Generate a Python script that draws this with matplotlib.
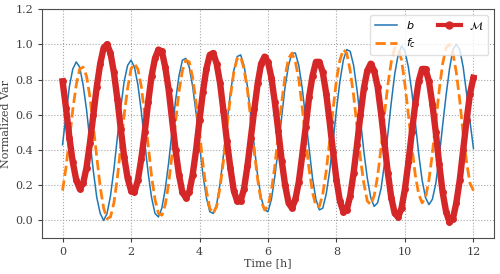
import numpy as np
import matplotlib.pyplot as plt

plt.rcParams['font.family'] = ['DejaVu Serif']
plt.rcParams['mathtext.fontset'] = 'dejavusans'

# time grid [h], 0.1 h step
t = np.linspace(0, 12, 121)

b = [0.43, 0.60, 0.76, 0.86, 0.90, 0.87, 0.77, 0.63, 0.45, 0.28,
     0.13, 0.04, 0.00, 0.04, 0.14, 0.29, 0.47, 0.64, 0.79, 0.88,
     0.91, 0.87, 0.77, 0.62, 0.44, 0.27, 0.13, 0.04, 0.02, 0.07,
     0.18, 0.33, 0.51, 0.68, 0.82, 0.91, 0.92, 0.87, 0.76, 0.61,
     0.43, 0.26, 0.13, 0.05, 0.04, 0.09, 0.21, 0.37, 0.55, 0.72,
     0.85, 0.93, 0.94, 0.88, 0.76, 0.59, 0.42, 0.25, 0.13, 0.06,
     0.05, 0.12, 0.25, 0.41, 0.59, 0.76, 0.88, 0.95, 0.95, 0.88,
     0.75, 0.58, 0.41, 0.24, 0.12, 0.06, 0.07, 0.15, 0.28, 0.45,
     0.63, 0.79, 0.91, 0.97, 0.96, 0.88, 0.74, 0.57, 0.39, 0.24,
     0.13, 0.08, 0.10, 0.18, 0.32, 0.49, 0.67, 0.83, 0.94, 0.99,
     0.96, 0.87, 0.73, 0.56, 0.38, 0.23, 0.13, 0.09, 0.12, 0.21,
     0.36, 0.54, 0.71, 0.86, 0.97, 1.00, 0.97, 0.87, 0.72, 0.56,
     0.41]

fc = [0.17, 0.30, 0.46, 0.63, 0.77, 0.86, 0.87, 0.82, 0.70, 0.53,
      0.36, 0.19, 0.07, 0.01, 0.02, 0.10, 0.24, 0.42, 0.60, 0.75,
      0.86, 0.89, 0.86, 0.76, 0.60, 0.43, 0.25, 0.12, 0.04, 0.03,
      0.09, 0.21, 0.38, 0.56, 0.73, 0.85, 0.91, 0.90, 0.81, 0.67,
      0.50, 0.32, 0.17, 0.07, 0.04, 0.08, 0.19, 0.34, 0.53, 0.70,
      0.84, 0.92, 0.93, 0.86, 0.74, 0.57, 0.39, 0.23, 0.11, 0.06,
      0.08, 0.17, 0.31, 0.49, 0.67, 0.82, 0.92, 0.95, 0.90, 0.80,
      0.64, 0.46, 0.29, 0.16, 0.08, 0.08, 0.15, 0.28, 0.45, 0.63,
      0.80, 0.91, 0.97, 0.95, 0.85, 0.71, 0.53, 0.35, 0.21, 0.11,
      0.09, 0.14, 0.25, 0.41, 0.60, 0.77, 0.90, 0.98, 0.98, 0.91,
      0.77, 0.60, 0.42, 0.26, 0.15, 0.10, 0.13, 0.23, 0.38, 0.56,
      0.74, 0.89, 0.98, 1.00, 0.95, 0.84, 0.68, 0.49, 0.33, 0.21,
      0.17]

M = [0.79, 0.64, 0.47, 0.33, 0.23, 0.18, 0.21, 0.30, 0.44, 0.60,
     0.76, 0.89, 0.98, 1.00, 0.95, 0.84, 0.69, 0.52, 0.36, 0.24,
     0.17, 0.16, 0.23, 0.35, 0.50, 0.67, 0.82, 0.92, 0.97, 0.96,
     0.87, 0.74, 0.57, 0.40, 0.26, 0.16, 0.13, 0.16, 0.26, 0.40,
     0.57, 0.73, 0.86, 0.94, 0.95, 0.89, 0.78, 0.62, 0.45, 0.30,
     0.17, 0.11, 0.11, 0.18, 0.31, 0.47, 0.63, 0.78, 0.89, 0.93,
     0.90, 0.81, 0.67, 0.51, 0.34, 0.20, 0.10, 0.07, 0.12, 0.22,
     0.37, 0.53, 0.70, 0.82, 0.90, 0.90, 0.84, 0.72, 0.56, 0.39,
     0.23, 0.11, 0.05, 0.06, 0.14, 0.27, 0.43, 0.60, 0.75, 0.85,
     0.89, 0.85, 0.76, 0.61, 0.44, 0.27, 0.13, 0.04, 0.02, 0.07,
     0.18, 0.33, 0.50, 0.66, 0.79, 0.86, 0.86, 0.79, 0.66, 0.50,
     0.32, 0.16, 0.05, -0.01, 0.01, 0.10, 0.23, 0.40, 0.57, 0.72,
     0.81]

fig = plt.figure(figsize=(5, 2.74), dpi=100)
ax = fig.add_axes([0.084, 0.131, 0.904, 0.836])

ax.plot(t, b, color='#1f77b4', lw=1.1, label='$b$')
ax.plot(t, fc, color='#ff7f0e', lw=2, ls='--', label='$f_c$')
ax.plot(t, M, color='#d62728', lw=4.6, marker='o', ms=5, mew=0,
        label=r'$\mathcal{M}$')

ax.set_xlim(-0.6, 12.6)
ax.set_ylim(-0.1, 1.2)
ax.set_xticks(np.arange(0, 13, 2))
ax.set_yticks(np.arange(0, 1.21, 0.2))
ax.grid(True, ls=':', color='0.65', lw=0.8)
ax.set_xlabel('Time [h]', fontsize=8, color='0.25', labelpad=1)
ax.set_ylabel('Normalized Var', fontsize=8, color='0.25', labelpad=3)
ax.tick_params(labelsize=8, colors='0.25', length=3)
for s in ax.spines.values():
    s.set_color('0.3')

leg = ax.legend(loc='upper right', ncol=2, fontsize=8, framealpha=0.8,
                edgecolor='0.85')
# thinner legend line for M so its dot shows like the reference
leg.get_lines()[2].set_linewidth(3)
leg.get_lines()[2].set_markersize(6)

fig.savefig('out.png', dpi=100)
